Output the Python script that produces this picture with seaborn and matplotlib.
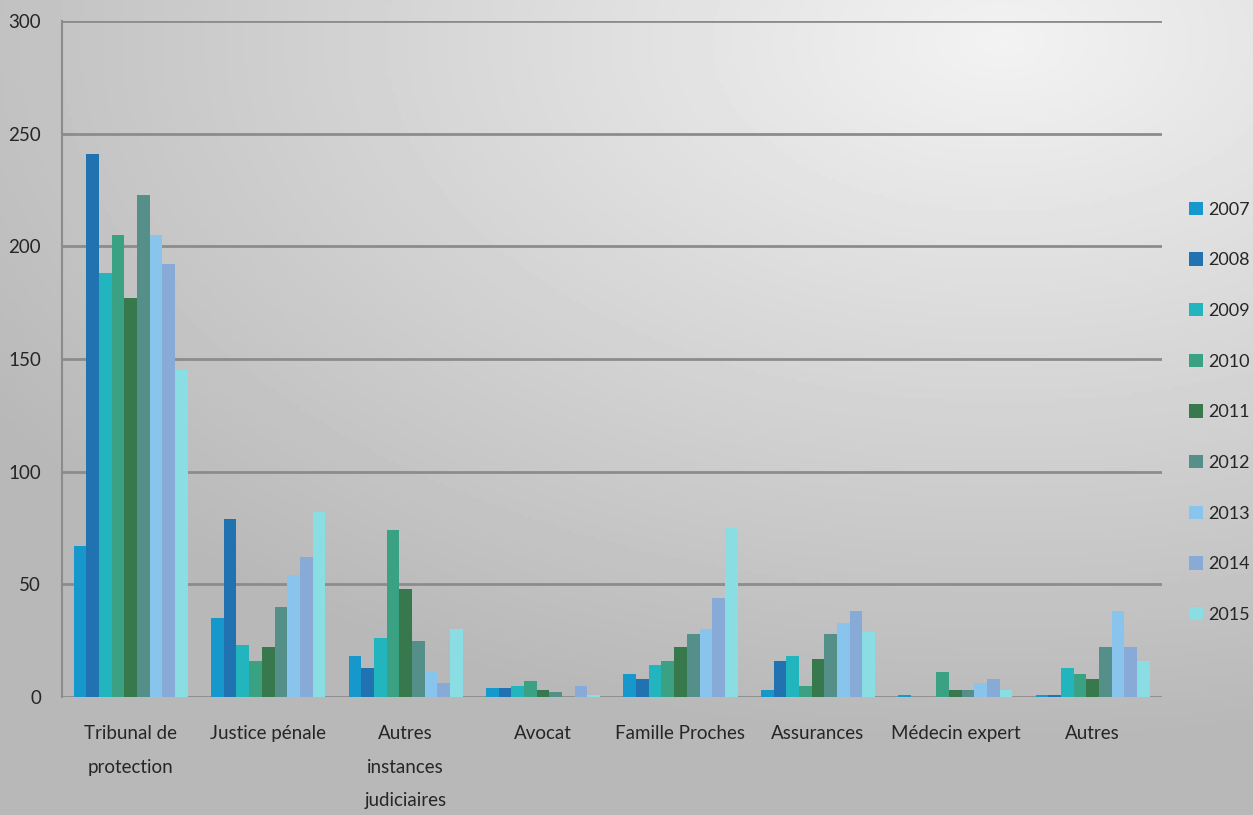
import numpy as np
import pandas as pd
import seaborn as sns
from matplotlib import pyplot as plt

categories = ['Tribunal de\nprotection', 'Justice pénale', 'Autres\ninstances\njudiciaires',
              'Avocat', 'Famille Proches', 'Assurances', 'Médecin expert', 'Autres']
years = ['2007', '2008', '2009', '2010', '2011', '2012', '2013', '2014', '2015']

v2007 = [67, 35, 18, 4, 10, 3, 1, 1]
v2008 = [241, 79, 13, 4, 8, 16, 0, 1]
v2009 = [188, 23, 26, 5, 14, 18, 0, 13]
v2010 = [205, 16, 74, 7, 16, 5, 11, 10]
v2011 = [177, 22, 48, 3, 22, 17, 3, 8]
v2012 = [223, 40, 25, 2, 28, 28, 3, 22]
v2013 = [205, 54, 11, 0, 30, 33, 6, 38]
v2014 = [192, 62, 6, 5, 44, 38, 8, 22]
v2015 = [145, 82, 30, 1, 75, 29, 3, 16]

colors = ['#1798cc', '#2072b0', '#22b5bd', '#3aa283', '#37784c',
          '#548f89', '#88c4eb', '#88aad6', '#8adde2']

series = [v2007, v2008, v2009, v2010, v2011, v2012, v2013, v2014, v2015]
rows = []
for y, vals in zip(years, series):
    for c, v in zip(categories, vals):
        rows.append({'cat': c, 'year': y, 'n': v})
df = pd.DataFrame(rows)

sns.set_style('white')
plt.rcParams['font.family'] = ['Lato', 'DejaVu Sans']

fig = plt.figure(figsize=(12.53, 8.15), dpi=100)

# grey background, lighter towards the top right
bg = fig.add_axes([0, 0, 1, 1], zorder=-10)
xx, yy = np.meshgrid(np.linspace(0, 1, 400), np.linspace(0, 1, 260))
d = np.sqrt(((xx - 0.8) / 1.0) ** 2 + ((yy - 0.05) / 0.9) ** 2)
shade = np.clip(0.95 - 0.24 * d, 0.72, 0.95)
bg.imshow(shade, cmap='gray', vmin=0, vmax=1, aspect='auto', extent=[0, 1, 1, 0])
bg.axis('off')

ax = fig.add_axes([0.0495, 0.1448, 0.8775, 0.8292])
ax.patch.set_alpha(0)
sns.barplot(data=df, x='cat', y='n', hue='year', palette=colors, width=0.83,
            saturation=1, ax=ax, zorder=3, legend=True, linewidth=0)

ax.set_ylim(0, 300)
ax.set_xlim(-0.5, 7.5)
ax.set_yticks(range(0, 301, 50))
ax.yaxis.grid(True, color='#8c8c8c', linewidth=2, zorder=0)
ax.set_axisbelow(True)
for s in ['top', 'right', 'bottom']:
    ax.spines[s].set_visible(False)
ax.spines['left'].set_color('#8c8c8c')
ax.spines['left'].set_linewidth(1.5)
ax.tick_params(axis='y', length=7, color='#8c8c8c', width=1.5, labelsize=13.5, pad=8)
ax.tick_params(axis='x', length=0, labelsize=13.5, pad=20)
for t in ax.get_xticklabels():
    t.set_linespacing(2.2)
ax.set_xlabel('')
ax.set_ylabel('')

ax.legend(title=None, loc='center left', bbox_to_anchor=(0.949, 0.494),
          bbox_transform=fig.transFigure, frameon=False, borderpad=0, borderaxespad=0,
          fontsize=13, handlelength=0.75, handleheight=0.75, labelspacing=1.92,
          handletextpad=0.3)

plt.savefig('out.png', dpi=100)
